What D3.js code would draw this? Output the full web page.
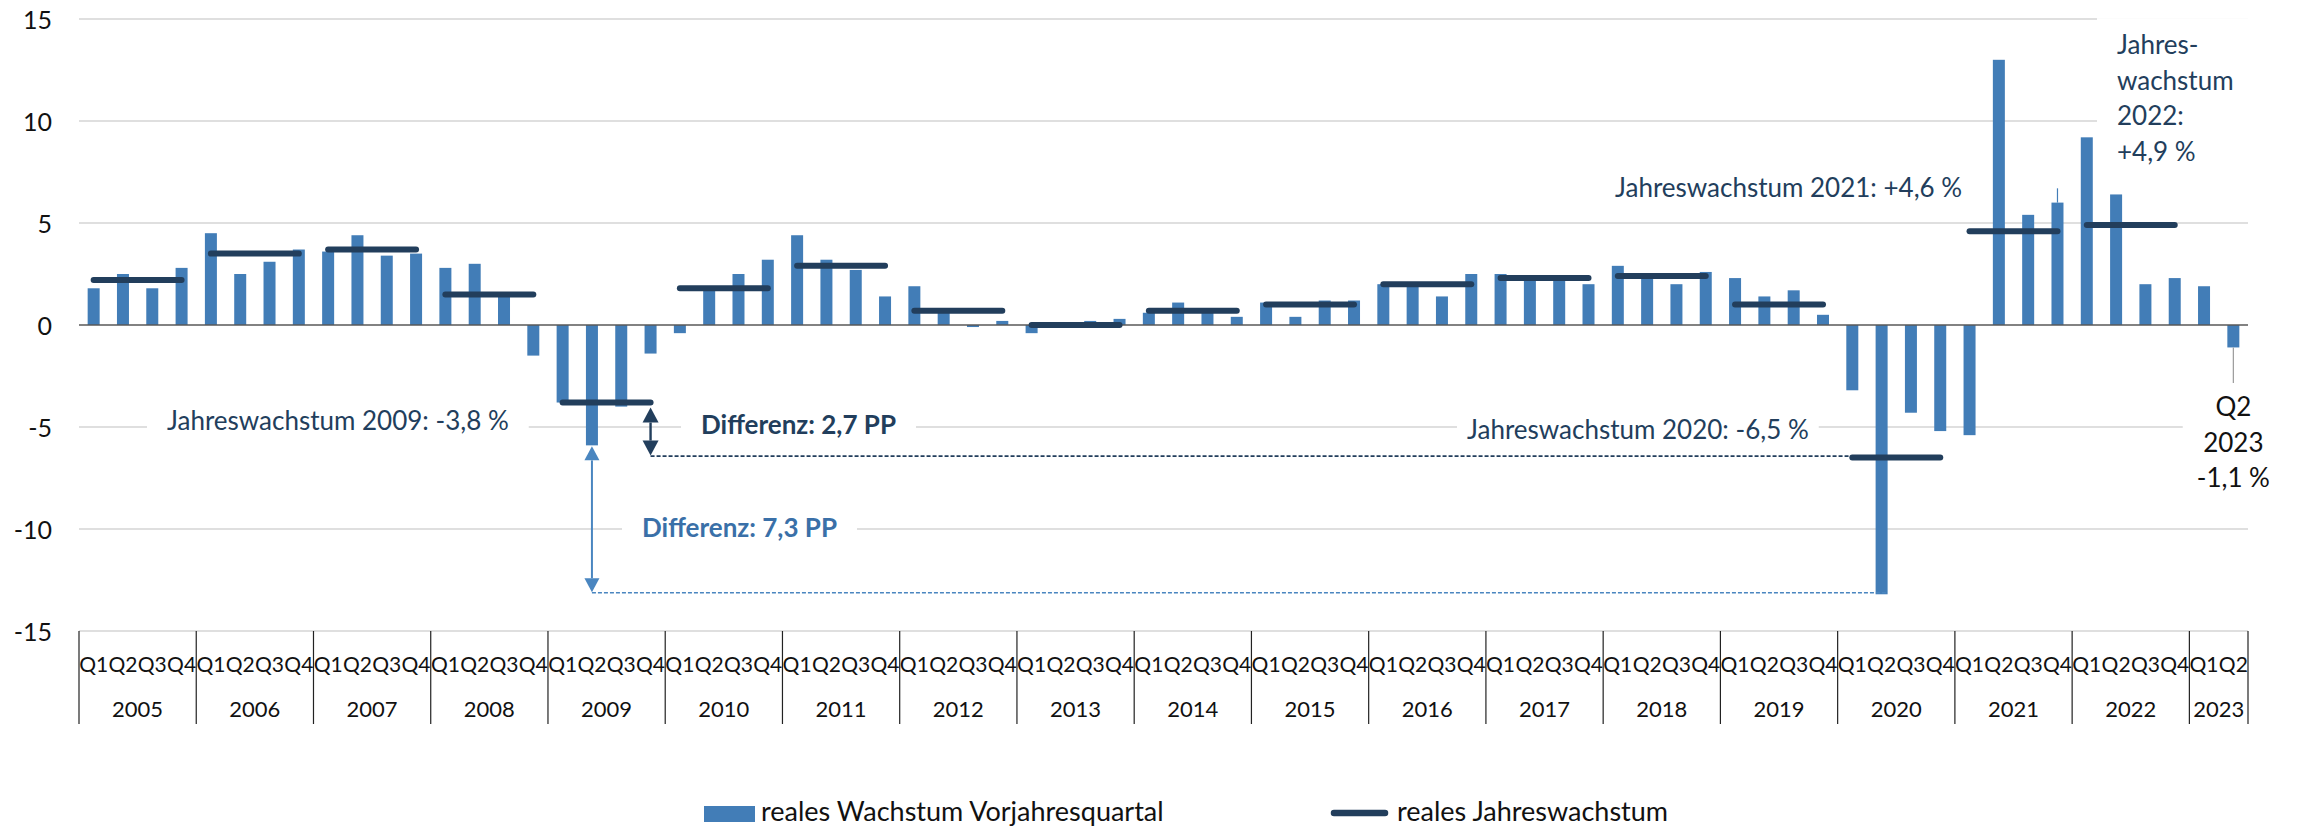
<!DOCTYPE html>
<html>
<head>
<meta charset="utf-8">
<script src="https://cdn.jsdelivr.net/npm/d3@7/dist/d3.min.js"></script>
<style>
  body { margin: 0; background: #fff; }
  text { font-family: Lato, "Open Sans", sans-serif; }
</style>
</head>
<body>
<svg id="chart" width="2300" height="829"></svg>
<script>
// data
const years = [2005, 2006, 2007, 2008, 2009, 2010, 2011, 2012, 2013, 2014,
               2015, 2016, 2017, 2018, 2019, 2020, 2021, 2022, 2023];
const quarterLabels = ["Q1", "Q2", "Q3", "Q4"];
// reales Wachstum gegenüber Vorjahresquartal, 2005 Q1 .. 2023 Q2
const quarterly = [
  1.8, 2.5, 1.8, 2.8,     // 2005
  4.5, 2.5, 3.1, 3.7,     // 2006
  3.6, 4.4, 3.4, 3.5,     // 2007
  2.8, 3.0, 1.6, -1.5,    // 2008
  -3.8, -5.9, -4.0, -1.4, // 2009
  -0.4, 1.8, 2.5, 3.2,    // 2010
  4.4, 3.2, 2.7, 1.4,     // 2011
  1.9, 0.6, -0.1, 0.2,    // 2012
  -0.4, 0.05, 0.2, 0.3,   // 2013
  0.6, 1.1, 0.7, 0.4,     // 2014
  1.1, 0.4, 1.2, 1.2,     // 2015
  2.0, 1.9, 1.4, 2.5,     // 2016
  2.5, 2.3, 2.3, 2.0,     // 2017
  2.9, 2.5, 2.0, 2.6,     // 2018
  2.3, 1.4, 1.7, 0.5,     // 2019
  -3.2, -13.2, -4.3, -5.2,// 2020
  -5.4, 13.0, 5.4, 6.0,   // 2021
  9.2, 6.4, 2.0, 2.3,     // 2022
  1.9, -1.1               // 2023
];
// reales Jahreswachstum
const annualYears = [2005, 2006, 2007, 2008, 2009, 2010, 2011, 2012, 2013,
                     2014, 2015, 2016, 2017, 2018, 2019, 2020, 2021, 2022];
const annual = [2.2, 3.5, 3.7, 1.5, -3.8, 1.8, 2.9, 0.7, 0.0,
                0.7, 1.0, 2.0, 2.3, 2.4, 1.0, -6.5, 4.6, 4.9];
const yTicks = [-15, -10, -5, 0, 5, 10, 15];
// small whisker visible above 2021 Q4
const whisker2021Q4 = [6.0, 6.7];

const barColor = "#427db7";
const navy = "#223e5c";
const blueText = "#3a70a8";

const svg = d3.select("#chart");
const plotLeft = 79, plotRight = 2248, plotTop = 19, plotBottom = 631;

// quarter keys
const keys = [];
years.forEach(yr => quarterLabels.forEach(q => {
  if (keys.length < quarterly.length) keys.push({ year: yr, q: q, key: yr + "-" + q });
}));
keys.forEach((k, i) => k.value = quarterly[i]);

const x = d3.scaleBand().domain(keys.map(k => k.key)).range([plotLeft, plotRight]).padding(0);
const y = d3.scaleLinear().domain([-15, 15]).range([plotBottom, plotTop]);
const bw = x.bandwidth();
const barW = 12;
const cx = key => x(key) + bw / 2;

const gGrid = svg.append("g");
const gBox = svg.append("g");
const gBars = svg.append("g");
const gLines = svg.append("g");
const gText = svg.append("g");

// gridlines
gGrid.selectAll("line.grid")
  .data(yTicks.filter(t => t !== 0))
  .enter().append("line")
  .attr("x1", plotLeft).attr("x2", plotRight)
  .attr("y1", d => y(d)).attr("y2", d => y(d))
  .attr("stroke", "#d4d4d4").attr("stroke-width", 1.5);

// y labels
gText.selectAll("text.ytick")
  .data(yTicks)
  .enter().append("text")
  .attr("x", 52).attr("y", d => y(d))
  .attr("text-anchor", "end").attr("dominant-baseline", "central")
  .attr("font-size", 25).attr("fill", "#111")
  .text(d => d);

// bars
gBars.selectAll("rect")
  .data(keys)
  .enter().append("rect")
  .attr("x", d => cx(d.key) - barW / 2)
  .attr("width", barW)
  .attr("y", d => y(Math.max(0, d.value)))
  .attr("height", d => Math.abs(y(d.value) - y(0)))
  .attr("fill", barColor);

// whisker above 2021 Q4
gBars.append("line")
  .attr("x1", cx("2021-Q4")).attr("x2", cx("2021-Q4"))
  .attr("y1", y(whisker2021Q4[0])).attr("y2", y(whisker2021Q4[1]))
  .attr("stroke", barColor).attr("stroke-width", 1.2);

// zero line
gLines.append("line")
  .attr("x1", plotLeft).attr("x2", plotRight)
  .attr("y1", y(0)).attr("y2", y(0))
  .attr("stroke", "#595959").attr("stroke-width", 1.5);

// annual lines
gLines.selectAll("line.annual")
  .data(annualYears.map((yr, i) => ({ year: yr, value: annual[i] })))
  .enter().append("line")
  .attr("x1", d => cx(d.year + "-Q1")).attr("x2", d => cx(d.year + "-Q4"))
  .attr("y1", d => y(d.value)).attr("y2", d => y(d.value))
  .attr("stroke", navy).attr("stroke-width", 6).attr("stroke-linecap", "round");

// category axis
const yearSpans = years.map(yr => {
  const ks = keys.filter(k => k.year === yr);
  return { year: yr, x0: x(ks[0].key), x1: x(ks[ks.length - 1].key) + bw };
});
const sepX = [yearSpans[0].x0].concat(yearSpans.map(s => s.x1));
gGrid.selectAll("line.sep")
  .data(sepX)
  .enter().append("line")
  .attr("x1", d => d).attr("x2", d => d)
  .attr("y1", plotBottom).attr("y2", 724)
  .attr("stroke", "#222").attr("stroke-width", 1.2);
gText.selectAll("text.q")
  .data(keys)
  .enter().append("text")
  .attr("x", d => cx(d.key)).attr("y", 663)
  .attr("text-anchor", "middle").attr("dominant-baseline", "central")
  .attr("font-size", 21).attr("fill", "#111")
  .text(d => d.q);
gText.selectAll("text.yr")
  .data(yearSpans)
  .enter().append("text")
  .attr("x", d => (d.x0 + d.x1) / 2).attr("y", 708)
  .attr("text-anchor", "middle").attr("dominant-baseline", "central")
  .attr("font-size", 22).attr("fill", "#111")
  .text(d => d.year);

// annotations with white boxes behind
function label(lines, xPos, yPos, opts) {
  const t = gText.append("text")
    .attr("x", xPos).attr("y", yPos)
    .attr("text-anchor", opts.anchor || "start")
    .attr("font-size", opts.size || 26)
    .attr("font-weight", opts.weight || "normal")
    .attr("fill", opts.color || navy);
  lines.forEach((ln, i) => {
    t.append("tspan").attr("x", xPos)
      .attr("dy", i === 0 ? "0.35em" : (opts.lh || 35.5) + "px")
      .text(ln);
  });
  const b = t.node().getBBox();
  const px = opts.padX == null ? 20 : opts.padX, py = opts.padY == null ? 6 : opts.padY;
  gBox.append("rect")
    .attr("x", b.x - px).attr("y", b.y - py)
    .attr("width", b.width + 2 * px).attr("height", b.height + 2 * py)
    .attr("fill", "#fff");
  return t;
}

const a2009 = annual[annualYears.indexOf(2009)];
const a2020 = annual[annualYears.indexOf(2020)];
const a2021 = annual[annualYears.indexOf(2021)];
const a2022 = annual[annualYears.indexOf(2022)];
const q2009 = keys.find(k => k.key === "2009-Q2");
const q2020 = keys.find(k => k.key === "2020-Q2");
const last = keys[keys.length - 1];
const fmt = v => (v > 0 ? "+" : "") + d3.format(".1f")(v).replace(".", ",").replace("−", "-") + " %";
const fmtPP = v => d3.format(".1f")(v).replace(".", ",") + " PP";

label(["Jahreswachstum 2009: " + fmt(a2009)], 167, 421, {});
label(["Differenz: " + fmtPP(a2009 - a2020)], 701, 425, { weight: "bold" });
label(["Jahreswachstum 2020: " + fmt(a2020)], 1467, 430, { padX: 10 });
label(["Differenz: " + fmtPP(q2009.value - q2020.value)], 642, 528, { weight: "bold", color: blueText });
label(["Jahreswachstum 2021: " + fmt(a2021)], 1615, 188, { padX: 6, padY: 2 });
label(["Jahres-", "wachstum", "2022:", fmt(a2022)], 2117, 45, { padY: 10 });
label(["Q2", String(last.year), fmt(last.value)], cx(last.key), 407,
      { anchor: "middle", color: "#111", padX: 14, padY: 4 });

// leader line Q2 2023
gLines.append("line")
  .attr("x1", cx(last.key)).attr("x2", cx(last.key))
  .attr("y1", y(last.value)).attr("y2", 383)
  .attr("stroke", "#9a9a9a").attr("stroke-width", 1.2);

// difference arrows
function arrow(xPos, yA, yB, color, w, head, half) {
  gLines.append("line")
    .attr("x1", xPos).attr("x2", xPos)
    .attr("y1", yA + head).attr("y2", yB - head)
    .attr("stroke", color).attr("stroke-width", w);
  gLines.append("path")
    .attr("d", `M${xPos},${yA} L${xPos - half},${yA + head} L${xPos + half},${yA + head} Z`)
    .attr("fill", color);
  gLines.append("path")
    .attr("d", `M${xPos},${yB} L${xPos - half},${yB - head} L${xPos + half},${yB - head} Z`)
    .attr("fill", color);
}
const xQ4_2009 = cx("2009-Q4");
const xQ2_2009 = cx("2009-Q2");
arrow(xQ4_2009, y(a2009) + 5, y(a2020) - 2, navy, 2.4, 15, 8);
arrow(xQ2_2009, y(q2009.value) + 1, y(q2020.value) - 2, "#4a86c0", 2, 14, 7.5);

// dashed reference lines
gLines.append("line")
  .attr("x1", xQ4_2009).attr("x2", cx("2020-Q1") - 3)
  .attr("y1", y(a2020) - 1.5).attr("y2", y(a2020) - 1.5)
  .attr("stroke", navy).attr("stroke-width", 1.6).attr("stroke-dasharray", "4,2");
gLines.append("line")
  .attr("x1", xQ2_2009).attr("x2", cx("2020-Q2") + barW / 2)
  .attr("y1", y(q2020.value) - 1.5).attr("y2", y(q2020.value) - 1.5)
  .attr("stroke", "#4a86c0").attr("stroke-width", 1.6).attr("stroke-dasharray", "4,2");

// legend
const leg = svg.append("g");
leg.append("rect").attr("x", 704).attr("y", 806).attr("width", 51).attr("height", 16).attr("fill", barColor);
leg.append("text").attr("x", 761).attr("y", 810).attr("dominant-baseline", "central")
  .attr("font-size", 27).attr("fill", "#111").text("reales Wachstum Vorjahresquartal");
leg.append("line").attr("x1", 1334).attr("x2", 1385).attr("y1", 813).attr("y2", 813)
  .attr("stroke", navy).attr("stroke-width", 6.5).attr("stroke-linecap", "round");
leg.append("text").attr("x", 1397).attr("y", 810).attr("dominant-baseline", "central")
  .attr("font-size", 27).attr("fill", "#111").text("reales Jahreswachstum");
</script>
</body>
</html>
